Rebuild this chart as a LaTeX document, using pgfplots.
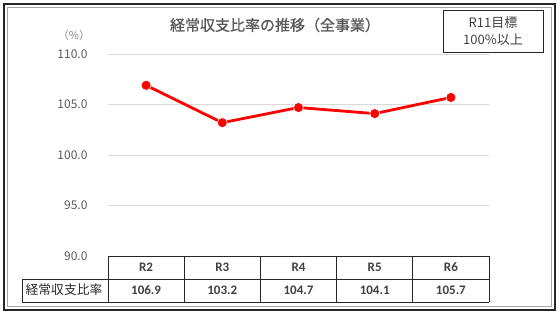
\documentclass[border=0pt]{standalone}
\usepackage{fontspec}
\setmainfont{Noto Sans CJK JP}
\newfontfamily\titlefont[FakeBold=0.8]{Noto Sans CJK JP}
\newfontfamily\numfont{Carlito}
\usepackage{pgfplots}
\usepackage{pgfplotstable}
\pgfplotsset{compat=1.18}
\definecolor{txtgray}{HTML}{595959}
\definecolor{tabtxt}{HTML}{404040}
\definecolor{gridgray}{HTML}{D9D9D9}
\pgfplotstableread{
x lab v
0 R2 106.9
1 R3 103.2
2 R4 104.7
3 R5 104.1
4 R6 105.7
}\datatab
\begin{document}
\begin{tikzpicture}[x=1pt,y=1pt]
% frame
\path[use as bounding box] (0,0) rectangle (559,314);
\draw[line width=2.5pt,black!85] (4,4) rectangle (555,310);
\draw[line width=0.8pt,gray!70] (7.5,7.5) rectangle (551.5,306.5);
\begin{axis}[
  at={(108pt,58pt)}, anchor=south west,
  scale only axis, width=381pt, height=202pt,
  xmin=-0.5, xmax=4.5, ymin=90, ymax=110,
  ytick={90,95,100,105,110},
  yticklabels={90.0,95.0,100.0,105.0,110.0},
  yticklabel style={font=\fontsize{12}{14}\selectfont, text=txtgray, anchor=east, xshift=-17pt},
  xtick={0,1,2,3,4},
  xticklabels={R2,R3,R4,R5,R6},
  xticklabel style={font=\numfont\bfseries\fontsize{13}{15}\selectfont, text=tabtxt, anchor=center, yshift=-11pt},
  major tick length=0pt,
  axis line style={draw=none},
  ymajorgrids, grid style={gridgray, line width=0.9pt},
  clip=false,
]
\addplot[red, line width=2.8pt, mark=*, mark size=5pt, mark options={fill=red, draw=white, line width=0.6pt}]
  table[x=x, y=v] {\datatab};
\addplot[draw=none, mark=none, nodes near coords, point meta=explicit symbolic,
  nodes near coords style={font=\numfont\bfseries\fontsize{13}{15}\selectfont, text=tabtxt, anchor=center, yshift=-34pt}]
  table[x=x, y expr=90, meta=v] {\datatab};
\end{axis}
% data table lines
\begin{scope}[line width=0.8pt, black!85]
\draw (108,58) -- (489,58);
\draw (22,35) -- (489,35);
\draw (22,12) -- (489,12);
\draw (22,35) -- (22,12);
\foreach \xx in {108,184.2,260.4,336.6,412.8,489} {\draw (\xx,58) -- (\xx,12);}
\end{scope}
\node[font=\fontsize{12.8}{15}\selectfont, text=black!85] at (64,24) {経常収支比率};
\node[font=\fontsize{11}{13}\selectfont, text=txtgray!70] at (74,279) {（\%）};
\node[font=\titlefont\fontsize{15}{18}\selectfont, text=txtgray] at (275,289) {経常収支比率の推移（全事業）};
\draw[line width=0.8pt, black!85] (443,262) rectangle (543,304);
\node[font=\fontsize{13}{17}\selectfont, text=tabtxt, align=center] at (493,283) {R11目標\\100\%以上};
\end{tikzpicture}
\end{document}
